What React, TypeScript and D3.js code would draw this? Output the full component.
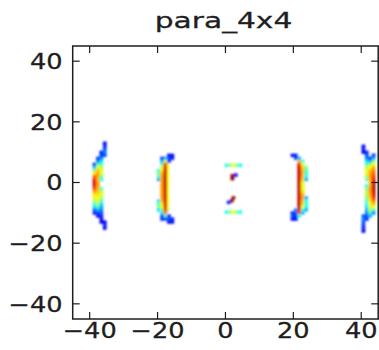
import React from "react";
import * as d3 from "d3";

// ---- data ----
const titleText = "para_4x4";
const xTicks = [-40, -20, 0, 20, 40];
const yTicks = [-40, -20, 0, 20, 40];
const xDomain = [-45, 45];
const yDomain = [-45, 45];

// heat columns: x centre, top y bin, values top->bottom (0 = empty), optional width
type Col = { x: number; top: number; v: number[]; w?: number };

const leftArc: Col[] = [
  { x: -38.6, top: 6, v: [0.12, 0.3, 0.5, 0.65, 0.78, 0.88, 0.93, 0.9, 0.82, 0.72, 0.65, 0.6, 0.55, 0.45, 0.35, 0.22, 0.12] },
  { x: -37.6, top: 8, v: [0.15, 0.25, 0.45, 0.6, 0.68, 0.72, 0.72, 0.7, 0.72, 0.72, 0.7, 0.68, 0.65, 0.62, 0.6, 0.55, 0.45, 0.3, 0.18, 0.12] },
  { x: -36.6, top: 10, v: [0.12, 0.18, 0.25, 0.35, 0.45, 0.55, 0.6, 0.6, 0.5, 0.4, 0, 0, 0.45, 0.55, 0.6, 0.55, 0.45, 0.35, 0.3, 0.25, 0.2, 0.15, 0.12, 0.1] },
  { x: -35.6, top: 13, v: [0.12, 0.15, 0.2, 0.25, 0.2] },
  { x: -35.6, top: -13, v: [0.12, 0.15, 0.12] },
];

const innerLeft: Col[] = [
  { x: -19.7, top: 4, v: [0.4, 0.48, 0.45, 0.3, 0, 0, 0, 0, 0, 0, 0.35, 0.45, 0.48, 0.35] },
  { x: -18.7, top: 8, v: [0.15, 0.3, 0.45, 0.6, 0.65, 0.7, 0.72, 0.72, 0.72, 0.72, 0.72, 0.72, 0.72, 0.72, 0.7, 0.65, 0.6, 0.5, 0.35, 0.2, 0.15] },
  { x: -17.7, top: 8, v: [0.3, 0.6, 0.85, 0.9, 0.92, 0.93, 0.93, 0.93, 0.93, 0.93, 0.93, 0.93, 0.93, 0.93, 0.93, 0.92, 0.9, 0.88, 0.75, 0.45, 0.2] },
  { x: -16.95, top: 6, w: 0.5, v: [0.6, 0.62, 0.62, 0.62, 0.62, 0.62, 0.62, 0.62, 0.62, 0.62, 0.62, 0.62, 0.62, 0.62, 0.6, 0.55] },
  { x: -16.7, top: 9, v: [0.12, 0.2, 0.15] },
  { x: -15.7, top: 9, v: [0.12, 0.15] },
  { x: -16.7, top: -11, v: [0.15, 0.2, 0.12] },
  { x: -15.7, top: -12, v: [0.15, 0.12] },
];

const centreCells: Col[] = [
  { x: 0.3, top: 5.7, v: [0.38] },
  { x: 1.3, top: 5.7, v: [0.5] },
  { x: 2.3, top: 5.7, v: [0.62] },
  { x: 3.3, top: 5.7, v: [0.5] },
  { x: 4.3, top: 5.7, v: [0.38] },
  { x: 2.0, top: 2.3, v: [0.97, 1.0] },
  { x: 3.0, top: 2.5, v: [0.12] },
  { x: 2.3, top: -5.0, v: [0.97] },
  { x: 1.8, top: -6.0, v: [1.0] },
  { x: 0.9, top: -6.5, v: [0.15] },
  { x: 0.3, top: -9.7, v: [0.38] },
  { x: 1.3, top: -9.7, v: [0.5] },
  { x: 2.3, top: -9.7, v: [0.6] },
  { x: 3.3, top: -9.7, v: [0.5] },
  { x: 4.3, top: -9.7, v: [0.38] },
];

const innerRight: Col[] = [
  { x: 19.7, top: 9, v: [0.12] },
  { x: 19.7, top: -10, v: [0.15, 0.2, 0.12] },
  { x: 20.7, top: 9, v: [0.15, 0.2] },
  { x: 20.7, top: -9, v: [0.25, 0.2, 0.15, 0.12] },
  { x: 21.7, top: 8, v: [0.3, 0.7, 0.88, 0.92, 0.93, 0.93, 0.93, 0.93, 0.93, 0.93, 0.93, 0.93, 0.93, 0.93, 0.93, 0.93, 0.93, 0.9, 0.8, 0.4] },
  { x: 22.7, top: 7, v: [0.4, 0.6, 0.68, 0.7, 0.72, 0.7, 0.68, 0.6, 0.6, 0.6, 0.65, 0.7, 0.72, 0.7, 0.68, 0.6, 0.45, 0.3] },
  { x: 23.7, top: 5, v: [0.5, 0.45, 0.42, 0.4, 0.3, 0, 0, 0, 0, 0, 0.3, 0.4, 0.42, 0.38, 0.3] },
];

const rightArc: Col[] = [
  { x: 40.6, top: 12, v: [0.12, 0.15, 0.12] },
  { x: 40.6, top: -11, v: [0.2, 0.25, 0.2, 0.18, 0.15, 0.12] },
  { x: 41.6, top: 10, v: [0.15, 0.2, 0.25, 0.35, 0.45, 0.55, 0.6, 0.6, 0.55, 0.45, 0, 0.4, 0.5, 0.55, 0.55, 0.5, 0.45, 0.4, 0.35, 0.3, 0.25, 0.2, 0.15] },
  { x: 42.6, top: 8, v: [0.15, 0.3, 0.5, 0.62, 0.68, 0.7, 0.72, 0.7, 0.68, 0.7, 0.72, 0.72, 0.7, 0.68, 0.65, 0.62, 0.6, 0.55, 0.45, 0.3] },
  { x: 43.6, top: 9, v: [0.15, 0.3, 0.5, 0.62, 0.7, 0.75, 0.78, 0.82, 0.88, 0.92, 0.93, 0.93, 0.92, 0.9, 0.85, 0.78, 0.7, 0.6, 0.45, 0.25] },
];

const clusters = [leftArc, innerLeft, centreCells, innerRight, rightArc];

// ---- colormap (jet) ----
function jet(t: number): string {
  const c = (v: number) => Math.max(0, Math.min(1, v));
  const r = c(1.5 - Math.abs(4 * t - 3));
  const g = c(1.5 - Math.abs(4 * t - 2));
  const b = c(1.5 - Math.abs(4 * t - 1));
  return d3.rgb(r * 255, g * 255, b * 255).formatHex();
}

const W = 379;
const H = 350;
const L = 72.7, R = 378.2, T = 46, B = 319;

export default function App() {
  const x = d3.scaleLinear().domain(xDomain).range([L, R]);
  const y = d3.scaleLinear().domain(yDomain).range([B, T]);
  const tickLen = 7;
  const ink = "#1e1e1e";
  const font = "DejaVu Sans, sans-serif";
  const fmt = (t: number) => (t < 0 ? `\u2212${Math.abs(t)}` : `${t}`);

  const cells: JSX.Element[] = [];
  clusters.forEach((cl, ci) =>
    cl.forEach((col, j) => {
      const w = col.w ?? 1;
      col.v.forEach((val, k) => {
        if (val <= 0) return;
        const cy = col.top - k;
        const x0 = x(col.x - w / 2);
        const x1 = x(col.x + w / 2);
        const y0 = y(cy + 0.5);
        const y1 = y(cy - 0.5);
        cells.push(
          <rect key={`${ci}-${j}-${k}`} x={x0} y={y0} width={x1 - x0 + 0.3} height={y1 - y0 + 0.3} fill={jet(val)} />
        );
      });
    })
  );

  return (
    <svg width={W} height={H} style={{ position: "absolute", left: 0, top: 0, background: "#fff" }}>
      <defs>
        <clipPath id="plotClip">
          <rect x={L} y={T} width={R - L} height={B - T} />
        </clipPath>
        <filter id="soft" x="-10%" y="-10%" width="120%" height="120%">
          <feGaussianBlur stdDeviation="1.2" />
        </filter>
      </defs>
      <rect x={0} y={0} width={W} height={H} fill="#fff" />
      <g clipPath="url(#plotClip)">
        <g filter="url(#soft)">{cells}</g>
      </g>
      {/* frame */}
      <rect x={L} y={T} width={R - L} height={B - T} fill="none" stroke={ink} strokeWidth={1.5} />
      {/* ticks */}
      {xTicks.map((t) => (
        <g key={`xt${t}`}>
          <line x1={x(t)} x2={x(t)} y1={B} y2={B - tickLen} stroke={ink} strokeWidth={1.2} />
          <line x1={x(t)} x2={x(t)} y1={T} y2={T + tickLen} stroke={ink} strokeWidth={1.2} />
          <g transform={`translate(${x(t)},337.5) scale(1.22,1)`}>
            <text textAnchor="middle" fontFamily={font} fontSize={21} fill={ink} stroke={ink} strokeWidth={0.3}>
              {fmt(t)}
            </text>
          </g>
        </g>
      ))}
      {yTicks.map((t) => (
        <g key={`yt${t}`}>
          <line x1={L} x2={L + tickLen} y1={y(t)} y2={y(t)} stroke={ink} strokeWidth={1.2} />
          <line x1={R} x2={R - tickLen} y1={y(t)} y2={y(t)} stroke={ink} strokeWidth={1.2} />
          <g transform={`translate(62.5,${y(t) + 7.7}) scale(1.22,1)`}>
            <text textAnchor="end" fontFamily={font} fontSize={21} fill={ink} stroke={ink} strokeWidth={0.3}>
              {fmt(t)}
            </text>
          </g>
        </g>
      ))}
      <g transform={`translate(223.5,27.5) scale(1.35,1)`}>
        <text textAnchor="middle" fontFamily={font} fontSize={22} fill={ink} stroke={ink} strokeWidth={0.3}>
          {titleText}
        </text>
      </g>
    </svg>
  );
}
